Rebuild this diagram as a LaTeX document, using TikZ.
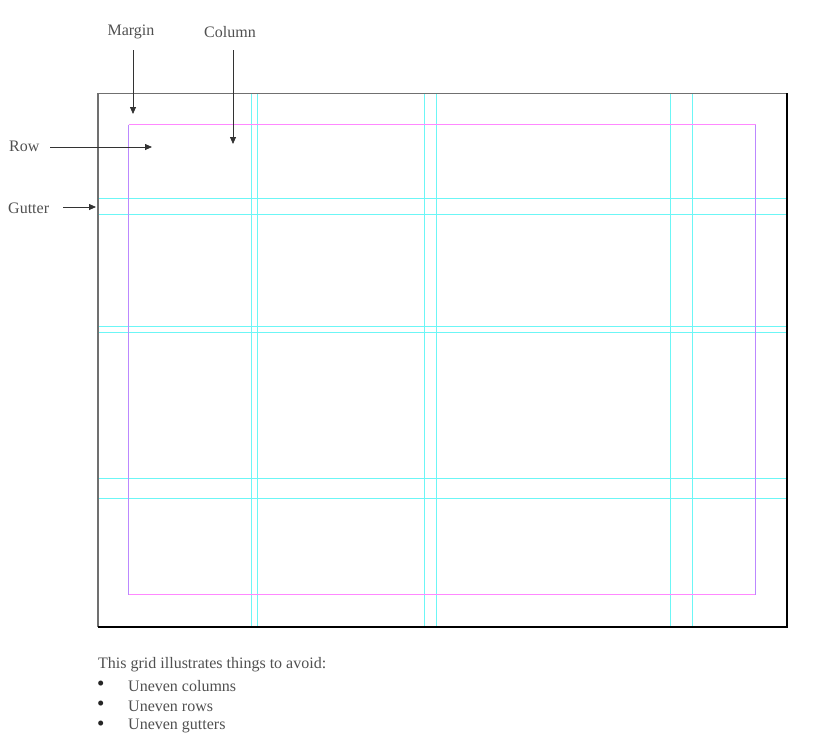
\documentclass[tikz,border=0pt]{standalone}
\usepackage{fontspec}
\setmainfont{Liberation Serif}
\usetikzlibrary{arrows.meta}
\definecolor{txt}{HTML}{505050}
\definecolor{guide}{HTML}{6CF6F6}
\definecolor{margintb}{HTML}{FF88FF}
\definecolor{marginlr}{HTML}{BB88FF}
\definecolor{pageedge}{HTML}{707070}
\tikzset{
  lbl/.style={text=txt, font=\fontsize{16}{18}\selectfont, inner sep=2pt},
  arr/.style={draw=black!80, line width=0.8pt, -{Triangle[length=7pt,width=6pt]}},
  guideline/.style={draw=guide, line width=1.3pt},
  marginline/.style={line width=1.2pt},
}
\begin{document}
\begin{tikzpicture}[x=1pt,y=-1pt]
\useasboundingbox (0,0) rectangle (826,755);
% gutters (vertical)
\draw[guideline] (251.5,94.2) -- (251.5,626) (257.5,94.2) -- (257.5,626)
  (424.5,94.2) -- (424.5,626) (436.5,94.2) -- (436.5,626)
  (670.5,94.2) -- (670.5,626) (692.5,94.2) -- (692.5,626);
% gutters (horizontal)
\draw[guideline] (98.6,198.5) -- (786,198.5) (98.6,214.5) -- (786,214.5)
  (98.6,326.5) -- (786,326.5) (98.6,332.5) -- (786,332.5)
  (98.6,478.5) -- (786,478.5) (98.6,498.5) -- (786,498.5);
% page
\draw[pageedge, line width=1.2pt] (98,627) -- (98,93.5) -- (787,93.5);
\draw[black, line width=2pt] (787,93) -- (787,627) -- (98,627);
% margin
\draw[marginline, margintb] (128.5,124.5) -- (755.5,124.5);
\draw[marginline, margintb] (128.5,594.5) -- (755.5,594.5);
\draw[marginline, marginlr] (128.5,124.5) -- (128.5,594.5);
\draw[marginline, marginlr] (755.5,124.5) -- (755.5,594.5);
% labels
\node[lbl] (margin) at (131,32) {Margin};
\node[lbl] (column) at (230,32) {Column};
\node[lbl, anchor=west] (row) at (7,146) {Row};
\node[lbl, anchor=west] (gutter) at (6,208) {Gutter};
\coordinate (marginT) at (133,114);
\coordinate (columnT) at (233,144);
\coordinate (rowT) at (152,147);
\coordinate (gutterT) at (96,207);
\draw[arr] (133,50) -- (marginT);
\draw[arr] (233,50) -- (columnT);
\draw[arr] (50,147) -- (rowT);
\draw[arr] (63,207) -- (gutterT);
% caption
\node[lbl, anchor=west] (cap) at (96,665) {This grid illustrates things to avoid:};
\foreach \t/\yy [count=\i] in {Uneven columns/686, Uneven rows/706, Uneven gutters/726}{
  \node[lbl, anchor=west, text=black!85, font=\fontsize{21}{21}\selectfont] (b\i) at (95,\yy) {\textbullet};
  \node[lbl, anchor=west] (t\i) at (126,\yy) {\t};
}
\end{tikzpicture}
\end{document}
